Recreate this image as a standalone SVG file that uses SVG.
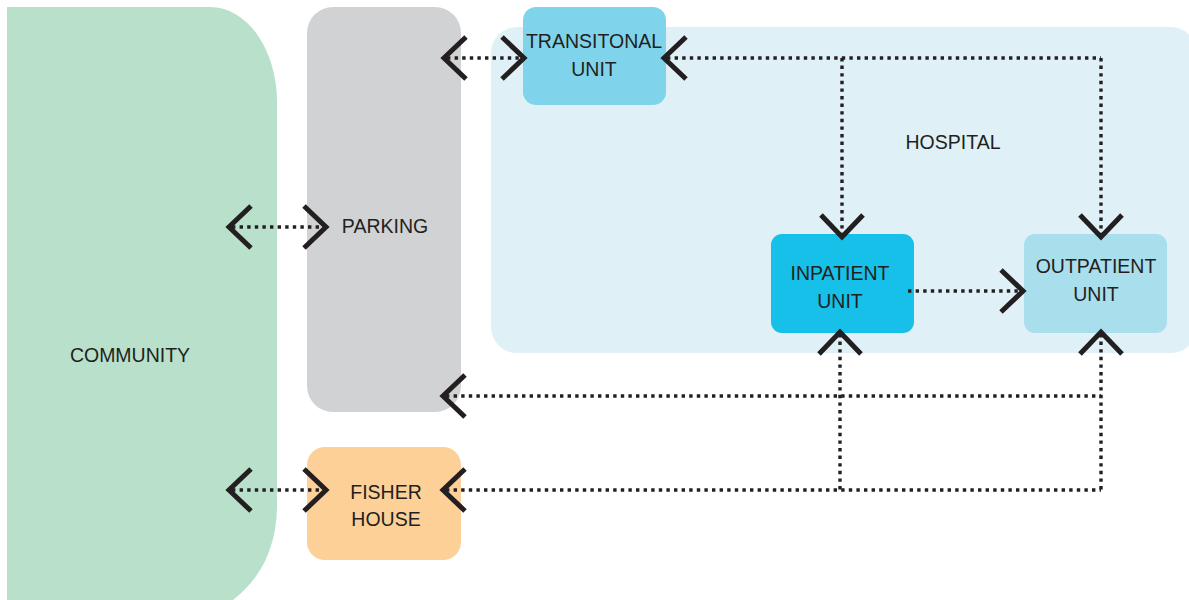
<svg xmlns="http://www.w3.org/2000/svg" width="1189" height="600" viewBox="0 0 1189 600">
  <defs>
    <style>
      .lbl { font-family: "Liberation Sans", Arial, sans-serif; font-size: 19.5px; fill: #231f20; }
      .dot { fill: none; stroke: #231f20; stroke-width: 3.4; stroke-dasharray: 3.4 4.2; }
      .chev { fill: none; stroke: #231f20; stroke-width: 5; stroke-linejoin: miter; stroke-miterlimit: 10; }
    </style>
    <path id="chevL" class="chev" d="M22,-21 L0,0 L22,21"/>
  </defs>
  <rect width="1189" height="600" fill="#ffffff"/>

  <g id="community">
    <path d="M7,7 H210 A67,95 0 0 1 277,102 V505 C277,545 262,578 233,600 H7 Z" fill="#b9e0cb"/>
    <text class="lbl" x="130" y="362" text-anchor="middle">COMMUNITY</text>
  </g>

  <g id="hospital">
    <rect x="491" y="27" width="706" height="326" rx="26" fill="#dff1f7"/>
    <text class="lbl" x="953" y="149" text-anchor="middle">HOSPITAL</text>
  </g>

  <g id="parking">
    <rect x="307" y="7" width="154" height="405" rx="26" fill="#d1d2d4"/>
    <text class="lbl" x="385" y="233" text-anchor="middle">PARKING</text>
  </g>

  <g id="transitional-unit">
    <rect x="523" y="7" width="143" height="98" rx="13" fill="#7fd4ec"/>
    <text class="lbl" x="594" y="48" text-anchor="middle">TRANSITONAL</text>
    <text class="lbl" x="594" y="76" text-anchor="middle">UNIT</text>
  </g>

  <g id="inpatient-unit">
    <rect x="771" y="234" width="143" height="99" rx="11" fill="#16c0e9"/>
    <text class="lbl" x="840" y="280" text-anchor="middle">INPATIENT</text>
    <text class="lbl" x="840" y="308" text-anchor="middle">UNIT</text>
  </g>

  <g id="outpatient-unit">
    <rect x="1024" y="234" width="143" height="99" rx="11" fill="#a9deed"/>
    <text class="lbl" x="1096" y="273" text-anchor="middle">OUTPATIENT</text>
    <text class="lbl" x="1096" y="301" text-anchor="middle">UNIT</text>
  </g>

  <g id="fisher-house">
    <rect x="307" y="447" width="154" height="113" rx="18" fill="#fdd098"/>
    <text class="lbl" x="386" y="499" text-anchor="middle">FISHER</text>
    <text class="lbl" x="386" y="526" text-anchor="middle">HOUSE</text>
  </g>

  <g id="connectors">
    <!-- dotted lines -->
    <path class="dot" d="M232,227 H324"/>
    <path class="dot" d="M232,490 H324"/>
    <path class="dot" d="M447,58 H522"/>
    <path class="dot" d="M667,58 H1101"/>
    <path class="dot" d="M842,58 V236"/>
    <path class="dot" d="M1101,58 V236"/>
    <path class="dot" d="M908,291 H1021"/>
    <path class="dot" d="M840,334 V490"/>
    <path class="dot" d="M1101,334 V490"/>
    <path class="dot" d="M446,396 H1101"/>
    <path class="dot" d="M446,490 H1101"/>

    <!-- chevrons pointing left -->
    <use href="#chevL" transform="translate(229,227)"/>
    <use href="#chevL" transform="translate(229,490)"/>
    <use href="#chevL" transform="translate(444,58)"/>
    <use href="#chevL" transform="translate(664,58)"/>
    <use href="#chevL" transform="translate(443,396)"/>
    <use href="#chevL" transform="translate(443,490)"/>
    <!-- chevrons pointing right -->
    <use href="#chevL" transform="translate(326,227) rotate(180)"/>
    <use href="#chevL" transform="translate(326,490) rotate(180)"/>
    <use href="#chevL" transform="translate(524,58) rotate(180)"/>
    <use href="#chevL" transform="translate(1023,291) rotate(180)"/>
    <!-- chevrons pointing down -->
    <use href="#chevL" transform="translate(842,237) rotate(-90)"/>
    <use href="#chevL" transform="translate(1101,237) rotate(-90)"/>
    <!-- chevrons pointing up -->
    <use href="#chevL" transform="translate(840,332) rotate(90)"/>
    <use href="#chevL" transform="translate(1101,332) rotate(90)"/>
  </g>
</svg>
